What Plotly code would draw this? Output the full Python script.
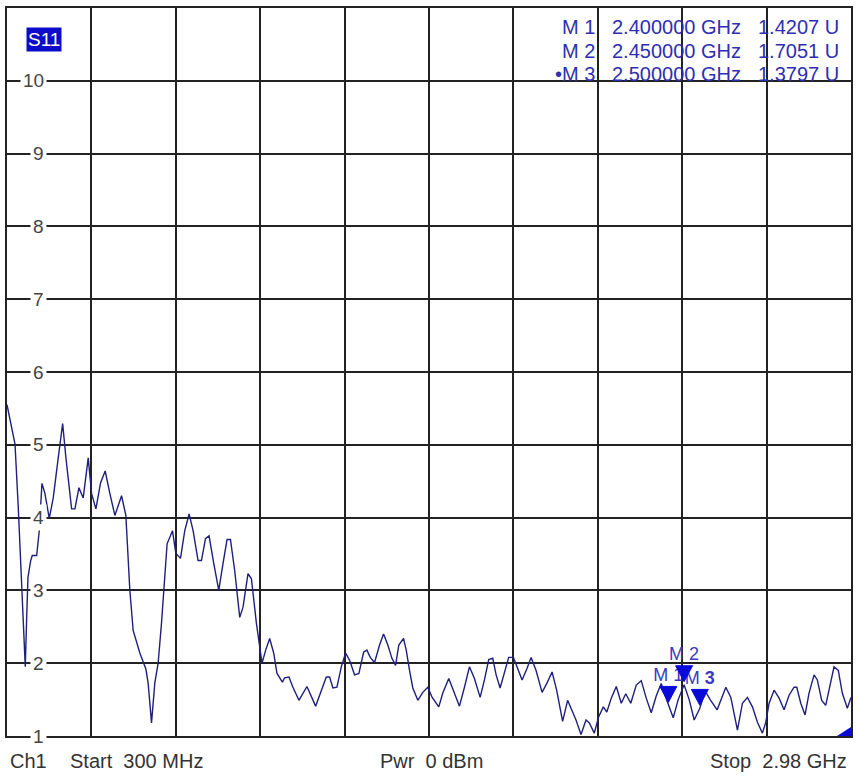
import plotly.graph_objects as go

# ---------------- data ----------------
freq_mhz = [300, 325.4, 335.8, 343.5, 349.8, 353.9, 358.0, 362.5, 366.6, 375.2,
            380.2, 394.2, 402.4, 411.0, 420.5, 434.2, 446.8, 462.7, 476.7, 487.1,
            505.2, 515.7, 528.4, 542.0, 557.9, 568.6, 582.3, 597.2, 611.8, 626.7,
            642.5, 663.8, 677.4, 690.1, 700.6, 721.8, 734.5, 740.9, 748.1, 758.9,
            769.4, 779.9, 790.6, 801.1, 808.4, 825.5, 836.0, 850.9, 864.5, 878.2,
            890.9, 906.7, 917.5, 930.2, 941.6, 956.5, 972.4, 986.0, 998.7, 1009.5,
            1023.1, 1039.0, 1049.4, 1065.3, 1076.1, 1091.9, 1109.7, 1121.4, 1134.1, 1146.8,
            1157.3, 1174.4, 1181.7, 1195.3, 1208.0, 1227.0, 1252.4, 1280.0, 1298.1, 1313.9,
            1324.4, 1334.9, 1347.6, 1361.5, 1375.2, 1387.9, 1403.7, 1417.4, 1432.3, 1442.7,
            1453.5, 1467.1, 1483.0, 1495.7, 1509.3, 1522.0, 1533.8, 1544.2, 1559.1, 1567.7,
            1578.2, 1588.6, 1604.5, 1620.3, 1636.2, 1650.1, 1671.1, 1683.8, 1702.8, 1717.7,
            1736.7, 1752.6, 1768.4, 1784.3, 1802.4, 1816.0, 1829.7, 1842.4, 1853.1, 1865.8,
            1879.5, 1893.1, 1908.0, 1921.6, 1935.6, 1951.5, 1964.2, 1980.0, 1999.0, 2014.9,
            2030.8, 2045.3, 2064.3, 2080.2, 2096.1, 2106.8, 2122.7, 2138.6, 2149.1, 2164.9,
            2178.5, 2193.5, 2204.6, 2218.8, 2234.7, 2250.5, 2264.8, 2280.7, 2298.1, 2314.0,
            2329.8, 2345.7, 2361.5, 2377.4, 2390.1, 2400.0, 2415.5, 2431.3, 2450.0, 2466.2,
            2482.1, 2500.0, 2516.9, 2532.8, 2555.0, 2582.6, 2598.4, 2619.4, 2635.3, 2651.1,
            2667.0, 2682.9, 2698.7, 2709.5, 2719.9, 2735.8, 2751.7, 2767.5, 2783.4, 2799.2,
            2807.8, 2820.5, 2834.1, 2846.8, 2862.7, 2873.1, 2887.0, 2899.7, 2913.4, 2926.1,
            2939.7, 2952.4, 2968.3, 2980.0]

vswr = [5.55, 5.01, 4.14, 3.37, 2.96, 2.55, 1.95, 2.63, 3.18, 3.41,
        3.48, 3.48, 3.82, 4.47, 4.33, 3.99, 4.27, 4.82, 5.29, 4.82,
        4.12, 4.12, 4.41, 4.27, 4.82, 4.33, 4.12, 4.48, 4.64, 4.33,
        4.03, 4.30, 4.03, 3.00, 2.45, 2.14, 2.00, 1.92, 1.73, 1.18,
        1.73, 2.00, 2.55, 3.14, 3.64, 3.82, 3.51, 3.44, 3.82, 4.05,
        3.82, 3.41, 3.41, 3.71, 3.75, 3.37, 3.00, 3.37, 3.70, 3.70,
        3.27, 2.63, 2.77, 3.23, 3.16, 2.55, 2.00, 2.18, 2.34, 2.14,
        1.86, 1.74, 1.80, 1.81, 1.67, 1.49, 1.68, 1.41, 1.63, 1.81,
        1.81, 1.66, 1.67, 1.95, 2.14, 2.04, 1.84, 1.86, 2.15, 2.18,
        2.08, 2.01, 2.25, 2.40, 2.25, 2.07, 1.97, 2.25, 2.34, 2.18,
        1.90, 1.66, 1.49, 1.60, 1.67, 1.53, 1.40, 1.59, 1.79, 1.63,
        1.41, 1.67, 1.95, 1.79, 1.53, 1.77, 2.05, 2.07, 1.84, 1.66,
        1.88, 2.08, 2.08, 1.93, 1.77, 1.93, 2.08, 1.90, 1.60, 1.73,
        1.88, 1.63, 1.20, 1.49, 1.33, 1.22, 1.02, 1.22, 1.18, 1.04,
        1.26, 1.40, 1.33, 1.52, 1.68, 1.45, 1.58, 1.45, 1.70, 1.76,
        1.52, 1.32, 1.55, 1.72, 1.55, 1.4207, 1.25, 1.50, 1.7051, 1.50,
        1.22, 1.3797, 1.62, 1.50, 1.36, 1.67, 1.53, 1.08, 1.45, 1.53,
        1.40, 1.19, 1.04, 1.19, 1.45, 1.63, 1.52, 1.36, 1.56, 1.67,
        1.67, 1.45, 1.29, 1.59, 1.84, 1.77, 1.49, 1.42, 1.70, 1.95,
        1.90, 1.59, 1.38, 1.53]

marker_names = ["M 1", "M 2", "M 3"]
marker_freq_mhz = [2400.0, 2450.0, 2500.0]
marker_vswr = [1.4207, 1.7051, 1.3797]

y_tick_vals = [1, 2, 3, 4, 5, 6, 7, 8, 9, 10]
y_tick_text = ["1", "2", "3", "4", "5", "6", "7", "8", "9", "10"]

start_mhz = 300
stop_mhz = 2980
y_min, y_max = 1, 11
trace_name = "S11"
footer_left = ["Ch1", "Start  300 MHz"]
footer_mid = "Pwr  0 dBm"
footer_right = "Stop  2.98 GHz"

# ---------------- layout geometry ----------------
W, H = 859, 776
ML, MR, MT, MB = 7, 7, 6, 40
PW, PH = W - ML - MR, H - MT - MB
FONT = "Liberation Sans, Arial, sans-serif"
GRID = "#222222"
TRACE = "#1f1f7e"
MK_BLUE = "#0a0ad8"
TXT_BLUE = "#2e2eb2"

def px(x):
    return (x - ML) / PW

def py(y):
    return (H - MB - y) / PH

mhz_per_px = (stop_mhz - start_mhz) / PW
units_per_px = (y_max - y_min) / PH

fig = go.Figure()

fig.add_trace(go.Scatter(
    x=freq_mhz, y=vswr, mode="lines",
    line=dict(color=TRACE, width=1.4),
    hoverinfo="skip", showlegend=False))

# geometry of the marker glyphs (pixels)
APEX_UP = 3      # apex sits slightly above the trace point
TRI_H = 16
TRI_HALF_W = 8.5

# marker labels (drawn before triangles so triangles overlap them)
lbl_text = [n if i < 2 else "M <b>3</b>" for i, n in enumerate(marker_names)]
fig.add_trace(go.Scatter(
    x=marker_freq_mhz,
    y=[v + (APEX_UP + TRI_H + 1) * units_per_px for v in marker_vswr],
    mode="text", text=lbl_text, textposition="top center",
    textfont=dict(family=FONT, size=18, color="#3a3ac4"),
    hoverinfo="skip", showlegend=False))

# marker triangles
tx, ty = [], []
for f, v in zip(marker_freq_mhz, marker_vswr):
    top = v + (APEX_UP + TRI_H) * units_per_px
    apex = v + APEX_UP * units_per_px
    hw = TRI_HALF_W * mhz_per_px
    tx += [f - hw, f + hw, f, f - hw, None]
    ty += [top, top, apex, top, None]
fig.add_trace(go.Scatter(
    x=tx, y=ty, mode="lines", fill="toself", fillcolor=MK_BLUE,
    line=dict(color=MK_BLUE, width=1), hoverinfo="skip", showlegend=False))

annotations = []
shapes = []

# y tick labels inside the plot, breaking the grid line
for v, t in zip(y_tick_vals, y_tick_text):
    annotations.append(dict(
        x=px(47), xref="paper", y=v, yref="y", text=t, showarrow=False,
        xanchor="right", yanchor="middle", bgcolor="white", borderpad=2,
        font=dict(family=FONT, size=19, color="#444444")))

# S11 badge
annotations.append(dict(
    x=px(44), y=py(37.5), xref="paper", yref="paper", text=trace_name,
    showarrow=False, xanchor="center", yanchor="middle",
    bgcolor="#0c0cc8", borderpad=1,
    font=dict(family=FONT, size=19, color="white")))

# marker table
row_y = [25.5, 49.5, 72.5]
for i, (n, f, v) in enumerate(zip(marker_names, marker_freq_mhz, marker_vswr)):
    lab = ("\u2022" + n) if i == len(marker_names) - 1 else n
    for text, xr in [(lab, 598), (f"{f/1000:.6f} GHz", 744), (f"{v:.4f} U", 842)]:
        annotations.append(dict(
            x=px(xr), y=py(row_y[i]), xref="paper", yref="paper", text=text,
            showarrow=False, xanchor="right", yanchor="middle",
            font=dict(family=FONT, size=20, color=TXT_BLUE)))

# footer
foot_y = py(761)
for text, xl in zip(footer_left, [8, 68]):
    annotations.append(dict(x=px(xl), y=foot_y, xref="paper", yref="paper",
                            text=text, showarrow=False, xanchor="left", yanchor="middle",
                            font=dict(family=FONT, size=20, color="#333333")))
annotations.append(dict(x=px(378), y=foot_y, xref="paper", yref="paper",
                        text=footer_mid, showarrow=False, xanchor="left", yanchor="middle",
                        font=dict(family=FONT, size=20, color="#333333")))
annotations.append(dict(x=px(850), y=foot_y, xref="paper", yref="paper",
                        text=footer_right, showarrow=False, xanchor="right", yanchor="middle",
                        font=dict(family=FONT, size=20, color="#333333")))

# small stimulus indicator at the bottom-right corner
shapes.append(dict(
    type="path", xref="paper", yref="paper", layer="above",
    path=f"M {px(838)},{py(736)} L {px(852)},{py(727)} L {px(852)},{py(736)} Z",
    fillcolor=MK_BLUE, line=dict(width=0)))

fig.update_layout(
    width=W, height=H,
    margin=dict(l=ML, r=MR, t=MT, b=MB, pad=0),
    paper_bgcolor="white", plot_bgcolor="white",
    font=dict(family=FONT),
    showlegend=False,
    annotations=annotations, shapes=shapes,
    xaxis=dict(range=[start_mhz, stop_mhz], tick0=start_mhz,
               dtick=(stop_mhz - start_mhz) / 10,
               showgrid=True, gridcolor=GRID, gridwidth=1.5,
               showline=True, mirror=True, linecolor=GRID, linewidth=2,
               showticklabels=False, ticks="", zeroline=False, fixedrange=True),
    yaxis=dict(range=[y_min, y_max], tick0=y_min, dtick=1,
               showgrid=True, gridcolor=GRID, gridwidth=1.5,
               showline=True, mirror=True, linecolor=GRID, linewidth=2,
               showticklabels=False, ticks="", zeroline=False, fixedrange=True),
)

fig.write_html(
    "out.html",
    config={"displayModeBar": False},
    post_script="document.body.style.margin='0';document.body.style.overflow='hidden';",
)
